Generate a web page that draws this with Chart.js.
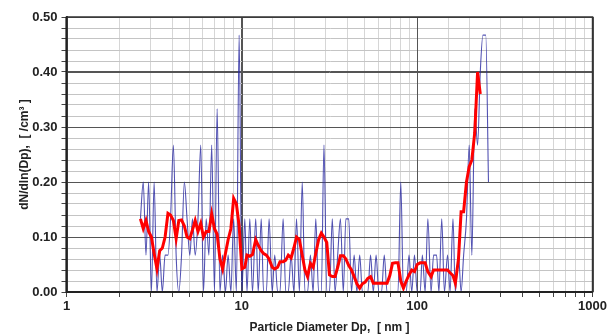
<!DOCTYPE html>
<html>
<head>
<meta charset="utf-8">
<script src="https://cdn.jsdelivr.net/npm/chart.js@4/dist/chart.umd.min.js"></script>
<style>
  html, body { margin: 0; padding: 0; background: #fff; }
  #wrap { width: 609px; height: 336px; position: relative; }
</style>
</head>
<body>
<div id="wrap"><canvas id="myChart" width="609" height="336"></canvas></div>
<script>
// particle diameters in nm (64 channels per decade)
var diameters = [
  2.64, 2.74, 2.84, 2.94, 3.05, 3.16, 3.28, 3.40, 3.52, 3.65, 3.79, 3.92, 4.07, 4.22, 4.37, 4.53,
  4.70, 4.87, 5.05, 5.23, 5.42, 5.62, 5.83, 6.04, 6.26, 6.49, 6.73, 6.98, 7.23, 7.50, 7.77, 8.06,
  8.35, 8.66, 8.98, 9.31, 9.65,
  10.0, 10.4, 10.7, 11.1, 11.5, 12.0, 12.4, 12.9, 13.3, 13.8, 14.3, 14.9, 15.4, 16.0, 16.5, 17.2,
  17.8, 18.4, 19.1, 19.8, 20.5, 21.3, 22.1, 22.9, 23.7, 24.6, 25.5, 26.4, 27.4, 28.4, 29.4, 30.5,
  31.6, 32.8, 34.0, 35.2, 36.5, 37.9, 39.2, 40.7, 42.2, 43.7, 45.3, 47.0, 48.7, 50.5, 52.3, 54.2,
  56.2, 58.3, 60.4, 62.6, 64.9, 67.3, 69.8, 72.3, 75.0, 77.7, 80.6, 83.5, 86.6, 89.8, 93.1, 96.5,
  100, 104, 107, 111, 115, 120, 124, 129, 133, 138, 143, 149, 154, 160, 165, 172,
  178, 184, 191, 198, 205, 213, 221, 229, 237, 246, 255
]

// raw dN/dln(Dp) (thin blue line)
var rawValues = [
  0.133, 0.2, 0.067, 0.2, 0, 0.2, 0, 0.067, 0, 0.067,
  0.067, 0.133, 0.267, 0.067, 0, 0.067, 0.2, 0.133, 0.067, 0.133,
  0.067, 0.133, 0.267, 0, 0.133, 0.067, 0.267, 0, 0.333, 0,
  0.067, 0, 0.067, 0, 0.133, 0, 0.467, 0, 0.133, 0,
  0.133, 0, 0.133, 0, 0.133, 0, 0, 0.133, 0, 0.067,
  0, 0, 0.133, 0, 0, 0.067, 0, 0.133, 0, 0.2,
  0, 0, 0.067, 0, 0.133, 0, 0, 0.267, 0, 0,
  0.133, 0, 0.067, 0.133, 0, 0.133, 0.133, 0, 0.067, 0,
  0.067, 0, 0, 0, 0.067, 0, 0.067, 0, 0, 0.067,
  0, 0, 0, 0, 0, 0.2, 0, 0, 0.067, 0,
  0.067, 0, 0, 0.067, 0, 0.133, 0, 0.067, 0.067, 0,
  0.133, 0, 0.067, 0, 0.133, 0, 0.067, 0, 0.067, 0.133,
  0.267, 0.067, 0.333, 0.267, 0.4, 0.467, 0.467, 0.2
]

// smoothed dN/dln(Dp) (thick red line)
var smoothValues = [
  0.133, 0.115, 0.13, 0.11, 0.1, 0.07, 0.042, 0.075, 0.08, 0.1,
  0.143, 0.14, 0.13, 0.097, 0.13, 0.131, 0.12, 0.1, 0.097, 0.113,
  0.13, 0.11, 0.125, 0.1, 0.11, 0.11, 0.142, 0.115, 0.105, 0.06,
  0.042, 0.07, 0.095, 0.115, 0.17, 0.16, 0.12, 0.042, 0.045, 0.067,
  0.065, 0.068, 0.095, 0.085, 0.075, 0.07, 0.067, 0.06, 0.045, 0.042,
  0.045, 0.055, 0.055, 0.058, 0.067, 0.062, 0.08, 0.1, 0.095, 0.067,
  0.04, 0.028, 0.052, 0.045, 0.07, 0.095, 0.107, 0.1, 0.09, 0.031,
  0.028, 0.028, 0.045, 0.066, 0.066, 0.06, 0.048, 0.04, 0.028, 0.015,
  0.007, 0.015, 0.018, 0.025, 0.028, 0.016, 0.016, 0.016, 0.016, 0.016,
  0.016, 0.03, 0.052, 0.053, 0.053, 0.02, 0.007, 0.02, 0.031, 0.04,
  0.037, 0.05, 0.053, 0.053, 0.053, 0.037, 0.028, 0.04, 0.04, 0.04,
  0.04, 0.04, 0.04, 0.035, 0.03, 0.016, 0.06, 0.146, 0.146, 0.2,
  0.228, 0.24, 0.29, 0.40, 0.36
]

var xLabelValues = [1, 10, 100, 1000]
var yLabelValues = [0, 0.1, 0.2, 0.3, 0.4, 0.5]

function toPoints(ys) {
  return ys.map(function (y, i) { return { x: diameters[i], y: y } })
}

function isDecade(v) {
  return xLabelValues.some(function (d) { return Math.abs(v - d) < 1e-6 * d })
}

function isMajorY(v) {
  return Math.round(v * 100) % 10 === 0
}

// redraw the major grid lines on top of the minor ones, then the frame
var framePlugin = {
  id: 'frame',
  beforeDatasetsDraw: function (chart) {
    var a = chart.chartArea
    var c = chart.ctx
    var sx = chart.scales.x
    var sy = chart.scales.y
    c.save()
    c.strokeStyle = '#555'
    c.lineWidth = 1
    c.beginPath()
    xLabelValues.forEach(function (v) {
      var px = Math.round(sx.getPixelForValue(v)) + 0.5
      c.moveTo(px, a.top)
      c.lineTo(px, a.bottom)
    })
    yLabelValues.forEach(function (v) {
      var py = Math.round(sy.getPixelForValue(v)) + 0.5
      c.moveTo(a.left, py)
      c.lineTo(a.right, py)
    })
    c.stroke()
    c.restore()
  },
  afterDraw: function (chart) {
    var a = chart.chartArea
    var c = chart.ctx
    c.save()
    c.strokeStyle = '#333'
    c.lineWidth = 1.5
    c.strokeRect(a.left, a.top, a.right - a.left, a.bottom - a.top)
    c.strokeStyle = '#222'
    c.lineWidth = 2
    c.beginPath()
    c.moveTo(a.left, a.top)
    c.lineTo(a.left, a.bottom)
    c.lineTo(a.right, a.bottom)
    c.stroke()
    c.restore()
  }
}

var boldFont = { family: 'Liberation Sans, Arial, sans-serif', size: 13, weight: 'bold' }

var ctx = document.getElementById('myChart')
var myChart = new Chart(ctx, {
  type: 'line',
  data: {
    datasets: [{
      data: toPoints(smoothValues),
      borderColor: '#ff0000',
      borderWidth: 3,
      pointRadius: 0,
      tension: 0,
      order: 1
    }, {
      data: toPoints(rawValues),
      borderColor: 'rgba(40, 40, 160, 0.8)',
      borderWidth: 1.1,
      pointRadius: 0,
      cubicInterpolationMode: 'monotone',
      order: 2
    }]
  },
  options: {
    responsive: false,
    animation: false,
    layout: { padding: { top: 17, right: 13, left: 0, bottom: 0 } },
    plugins: {
      legend: { display: false },
      tooltip: { enabled: false }
    },
    scales: {
      x: {
        type: 'logarithmic',
        min: 1,
        max: 1000,
        afterFit: function (s) { s.height = 44 },
        border: { color: '#222', width: 2 },
        grid: {
          color: function (c) { return c.tick && isDecade(c.tick.value) ? '#555' : '#d6d6d6' },
          tickColor: '#444',
          tickLength: 5
        },
        ticks: {
          autoSkip: false,
          maxRotation: 0,
          padding: 2,
          color: '#222',
          font: boldFont,
          callback: function (v) { return isDecade(v) ? String(Math.round(v)) : '' }
        },
        title: {
          display: true,
          text: 'Particle Diameter Dp,  [ nm ]',
          color: '#222',
          font: { family: 'Liberation Sans, Arial, sans-serif', size: 12, weight: 'bold' },
          padding: { top: 0, bottom: 1 }
        }
      },
      y: {
        min: 0,
        max: 0.5,
        afterFit: function (s) { s.width = 66.5 },
        border: { color: '#222', width: 2 },
        grid: {
          color: function (c) { return c.tick && isMajorY(c.tick.value) ? '#555' : '#c4c4c4' },
          tickColor: '#444',
          tickLength: 5
        },
        ticks: {
          stepSize: 0.02,
          autoSkip: false,
          padding: 4,
          color: '#222',
          font: boldFont,
          callback: function (v) { return isMajorY(v) ? (Math.round(v * 100) / 100).toFixed(2) : '' }
        },
        title: {
          display: true,
          text: 'dN/dln(Dp),  [ /cm³ ]',
          color: '#222',
          font: { family: 'Liberation Sans, Arial, sans-serif', size: 12, weight: 'bold' },
          padding: { top: 17, bottom: 0 }
        }
      }
    }
  },
  plugins: [framePlugin]
})
</script>
</body>
</html>
